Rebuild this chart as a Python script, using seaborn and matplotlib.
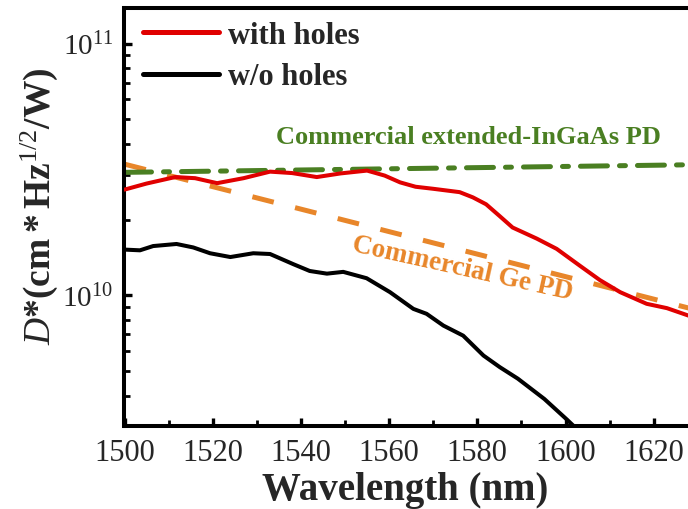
import numpy as np
import pandas as pd
import seaborn as sns
import matplotlib
matplotlib.use("Agg")
import matplotlib.pyplot as plt
from matplotlib.ticker import LogLocator, MultipleLocator, NullFormatter

# ---- data ----
wl_with = [1500, 1505, 1511.5, 1516, 1521, 1527, 1533, 1538, 1543.6, 1549, 1555, 1559,
           1562.5, 1566, 1570, 1576, 1579, 1582, 1585, 1588, 1593.5, 1598, 1603.3,
           1607.8, 1612.4, 1618.4, 1623, 1628, 1632]
d_with = [2.63e10, 2.78e10, 2.95e10, 2.92e10, 2.79e10, 2.92e10, 3.10e10, 3.06e10, 2.95e10,
          3.05e10, 3.13e10, 2.99e10, 2.81e10, 2.70e10, 2.65e10, 2.57e10, 2.45e10, 2.30e10,
          2.07e10, 1.86e10, 1.68e10, 1.53e10, 1.31e10, 1.15e10, 1.03e10, 9.26e9, 8.9e9,
          8.3e9, 8.0e9]

wl_wo = [1500, 1503.5, 1506.5, 1511.8, 1515.6, 1519.4, 1524, 1529.2, 1533, 1538.3, 1542,
         1545.9, 1549.6, 1554.9, 1560.2, 1565.5, 1568.5, 1572.3, 1576.8, 1581.4, 1585.1,
         1589.2, 1595.2, 1600.1, 1603]
d_wo = [1.52e10, 1.51e10, 1.57e10, 1.60e10, 1.55e10, 1.47e10, 1.42e10, 1.47e10, 1.46e10,
        1.33e10, 1.25e10, 1.22e10, 1.24e10, 1.17e10, 1.03e10, 8.84e9, 8.45e9, 7.59e9,
        6.92e9, 5.77e9, 5.19e9, 4.67e9, 3.88e9, 3.24e9, 2.9e9]

wl_ingaas = [1500, 1650]
d_ingaas = [3.08e10, 3.34e10]

wl_ge = [1500, 1650]
d_ge = [3.32e10, 7.1e9]

labels = ["with holes", "w/o holes"]
xticks = [1500, 1520, 1540, 1560, 1580, 1600, 1620]

# ---- style ----
sns.set_style("ticks")
plt.rcParams["font.family"] = ["Liberation Serif", "DejaVu Serif"]
plt.rcParams["mathtext.fontset"] = "custom"
plt.rcParams["mathtext.rm"] = "Liberation Serif"
plt.rcParams["mathtext.it"] = "Liberation Serif:italic"
plt.rcParams["mathtext.bf"] = "Liberation Serif:bold"

RED = "#e00000"
GREEN = "#4a7f22"
ORANGE = "#e8862a"

fig = plt.figure(figsize=(6.88, 5.10), dpi=100)
W, H = 688, 510
x0, x1 = 124.5, 124.5 + 150 * 4.41
ytop, ybot = 9.3, 427
ax = fig.add_axes([x0 / W, (H - ybot) / H, (x1 - x0) / W, (ybot - ytop) / H])

df_ge = pd.DataFrame({"wl": wl_ge, "d": d_ge})
df_in = pd.DataFrame({"wl": wl_ingaas, "d": d_ingaas})
df_with = pd.DataFrame({"wl": wl_with, "d": d_with})
df_wo = pd.DataFrame({"wl": wl_wo, "d": d_wo})

sns.lineplot(data=df_ge, x="wl", y="d", ax=ax, color=ORANGE, lw=3.6,
             legend=False, zorder=2)
ax.lines[-1].set_dashes([4.4, 4.4])
ax.lines[-1].set_dash_capstyle("butt")
sns.lineplot(data=df_in, x="wl", y="d", ax=ax, color=GREEN, lw=3.6,
             legend=False, zorder=2)
ax.lines[-1].set_dashes([5.4, 2.4, 1.2, 2.4])
ax.lines[-1].set_dash_capstyle("round")
sns.lineplot(data=df_wo, x="wl", y="d", ax=ax, color="black", lw=2.9,
             label=labels[1], zorder=3)
sns.lineplot(data=df_with, x="wl", y="d", ax=ax, color=RED, lw=2.9,
             label=labels[0], zorder=4)

ax.set_yscale("log")
ax.set_xlim(1500, 1650)
ax.set_ylim(3.03e9, 1.38e11)

ax.set_xticks(xticks)
ax.xaxis.set_minor_locator(MultipleLocator(10))
ax.yaxis.set_major_locator(LogLocator(base=10))
ax.yaxis.set_minor_locator(LogLocator(base=10, subs=np.arange(2, 10)))
ax.yaxis.set_minor_formatter(NullFormatter())

for s in ax.spines.values():
    s.set_linewidth(2.9)
    s.set_color("black")
ax.tick_params(which="both", direction="in", top=False, right=False, color="black")
ax.tick_params(which="major", length=6, width=2.4)
ax.tick_params(which="minor", length=4, width=2.0)
ax.tick_params(axis="x", which="major", labelsize=22, pad=9)
ax.tick_params(axis="y", which="major", labelsize=21, pad=8)

ax.set_xlabel("Wavelength (nm)", fontsize=28, fontweight="bold")
ax.set_ylabel(r"$\mathbf{\mathit{D}}$$\mathbf{*(cm*Hz}^{1/2}\mathbf{/W)}$",
              fontsize=27)
ax.xaxis.set_label_coords((405 - x0) / (x1 - x0), -(472 - ybot) / (ybot - ytop))
ax.yaxis.set_label_coords(-(124.5 - 60) / (x1 - x0), (ybot - 206) / (ybot - ytop))

# legend: only the two measured curves
handles, labs = ax.get_legend_handles_labels()
order = [labs.index(labels[0]), labs.index(labels[1])]
leg = ax.legend([handles[i] for i in order], [labs[i] for i in order],
                loc="upper left", frameon=False,
                bbox_to_anchor=((143 - x0) / (x1 - x0), (ybot - 22) / (ybot - ytop)),
                borderpad=0, borderaxespad=0, handlelength=2.5, handletextpad=0.28,
                labelspacing=0.4,
                prop={"family": "Liberation Serif", "weight": "bold", "size": 22})
for ln in leg.get_lines():
    ln.set_linewidth(3.6)

ax.text(1578, 4.26e10, "Commercial extended-InGaAs PD", color=GREEN, fontsize=19,
        fontweight="bold", ha="center", va="center")
ax.text(1576.5, 1.28e10, "Commercial Ge PD", color=ORANGE, fontsize=19.5,
        fontweight="bold", ha="center", va="center", rotation=-12.5,
        rotation_mode="anchor")

fig.savefig("out.png", dpi=100)
